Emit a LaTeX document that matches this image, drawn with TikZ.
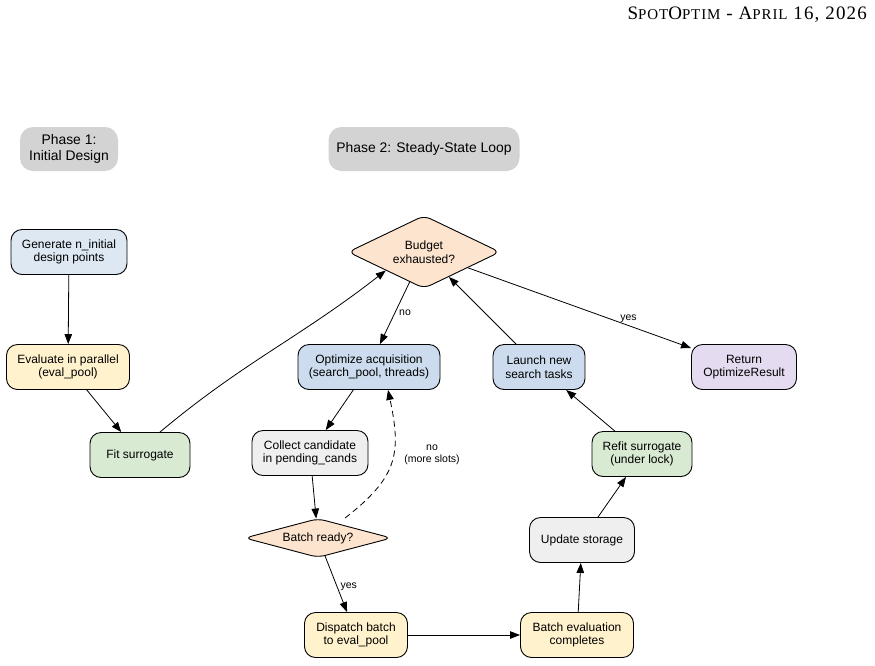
\documentclass[tikz,border=0pt]{standalone}
\usepackage{fontspec}
\setmainfont{Liberation Sans}
\newfontfamily\headserif[LetterSpace=6]{Liberation Serif}
\usetikzlibrary{shapes.geometric,arrows.meta}
\definecolor{phasegray}{HTML}{D3D3D3}
\definecolor{genblue}{HTML}{DDE8F3}
\definecolor{optblue}{HTML}{CCDCEE}
\definecolor{evalyel}{HTML}{FFF2CC}
\definecolor{fitgreen}{HTML}{D9EAD3}
\definecolor{peach}{HTML}{FCE4CF}
\definecolor{lgray}{HTML}{EFEFEF}
\definecolor{lpurple}{HTML}{E5DBF0}
\newcommand\myhsc[1]{{\fontsize{15}{15}\selectfont #1}}
\begin{document}
\begin{tikzpicture}[x=1pt,y=1pt,
  box/.style={draw=black, line width=0.9pt, rounded corners=11pt, align=center,
    inner sep=0pt, minimum height=45pt, font=\fontsize{12}{13.5}\selectfont},
  phase/.style={fill=phasegray, rounded corners=13pt, align=center, inner sep=0pt,
    minimum height=44pt, font=\fontsize{13.9}{15.5}\selectfont},
  dec/.style={diamond, draw=black, line width=0.9pt, rounded corners=7pt, align=center,
    inner sep=0pt, fill=peach, font=\fontsize{12}{13.5}\selectfont},
  arr/.style={-{Triangle[length=10pt,width=7.5pt]}, line width=0.8pt},
  lbl/.style={font=\fontsize{10.5}{12}\selectfont, inner sep=1pt, align=center}]
\useasboundingbox (0,0) rectangle (875,-665);

% header
\node[anchor=base east, inner sep=0pt, font=\headserif\fontsize{19}{19}\selectfont] (hdr) at (867,-19.5)
  {S\myhsc{POT}O\myhsc{PTIM} - A\myhsc{PRIL} 16, 2026};

% phases
\node[phase, minimum width=98pt] (ph1) at (69,-149) {Phase 1:\\Initial Design};
\node[phase, minimum width=191pt] (ph2) at (424,-149) {Phase 2: Steady-State Loop};

% nodes
\node[box, fill=genblue, minimum width=116pt] (gen) at (69,-252) {Generate n\_initial\\design points};
\node[box, fill=evalyel, minimum width=123pt] (evalp) at (68,-367) {Evaluate in parallel\\(eval\_pool)};
\node[box, fill=fitgreen, minimum width=100pt] (fit) at (140,-455) {Fit surrogate};
\node[dec, aspect=3, minimum width=152pt, minimum height=73pt] (budget) at (424,-252) {Budget\\exhausted?};
\node[box, fill=optblue, minimum width=142pt] (opt) at (369,-367) {Optimize acquisition\\(search\_pool, threads)};
\node[box, fill=optblue, minimum width=92pt] (launch) at (539,-367) {Launch new\\search tasks};
\node[box, fill=lpurple, minimum width=105pt] (ret) at (744,-367) {Return\\OptimizeResult};
\node[box, fill=lgray, minimum width=116pt] (collect) at (310,-453) {Collect candidate\\in pending\_cands};
\node[dec, aspect=4, minimum width=147pt, minimum height=39pt] (batch) at (318,-538) {Batch ready?};
\node[box, fill=fitgreen, minimum width=100pt] (refit) at (642,-454) {Refit surrogate\\(under lock)};
\node[box, fill=lgray, minimum width=105pt] (update) at (582,-540) {Update storage};
\node[box, fill=evalyel, minimum width=103pt] (dispatch) at (356,-635) {Dispatch batch\\to eval\_pool};
\node[box, fill=evalyel, minimum width=113pt] (beval) at (577,-635) {Batch evaluation\\completes};

% label for dashed loop
\node[lbl] (slots) at (432,-455) {no\\(more slots)};

% edges
\draw[arr] (gen) -- (evalp);
\draw[arr] (evalp) -- (fit);
\draw[arr] ([xshift=20pt]fit.north) to[out=40,in=-142] (budget.south west);
\draw[arr] (budget) -- node[lbl, pos=0.5, right=3pt] (lno) {no} (opt);
\draw[arr] (budget) -- node[lbl, pos=0.72, above=1pt] (lyes) {yes} (ret);
\draw[arr] (launch) -- (budget);
\draw[arr] (opt) -- (collect);
\draw[arr] (collect) -- (batch);
\draw[arr, dashed, dash pattern=on 6pt off 4pt] ([xshift=27pt]batch.north) to[out=38,in=-78,looseness=1.25] ([xshift=19pt]opt.south);
\draw[arr] (batch) -- node[lbl, pos=0.55, right=2pt] (lyes2) {yes} (dispatch);
\draw[arr] (dispatch) -- (beval);
\draw[arr] (beval) -- (update);
\draw[arr] (update) -- (refit);
\draw[arr] (refit) -- (launch);
\end{tikzpicture}
\end{document}
